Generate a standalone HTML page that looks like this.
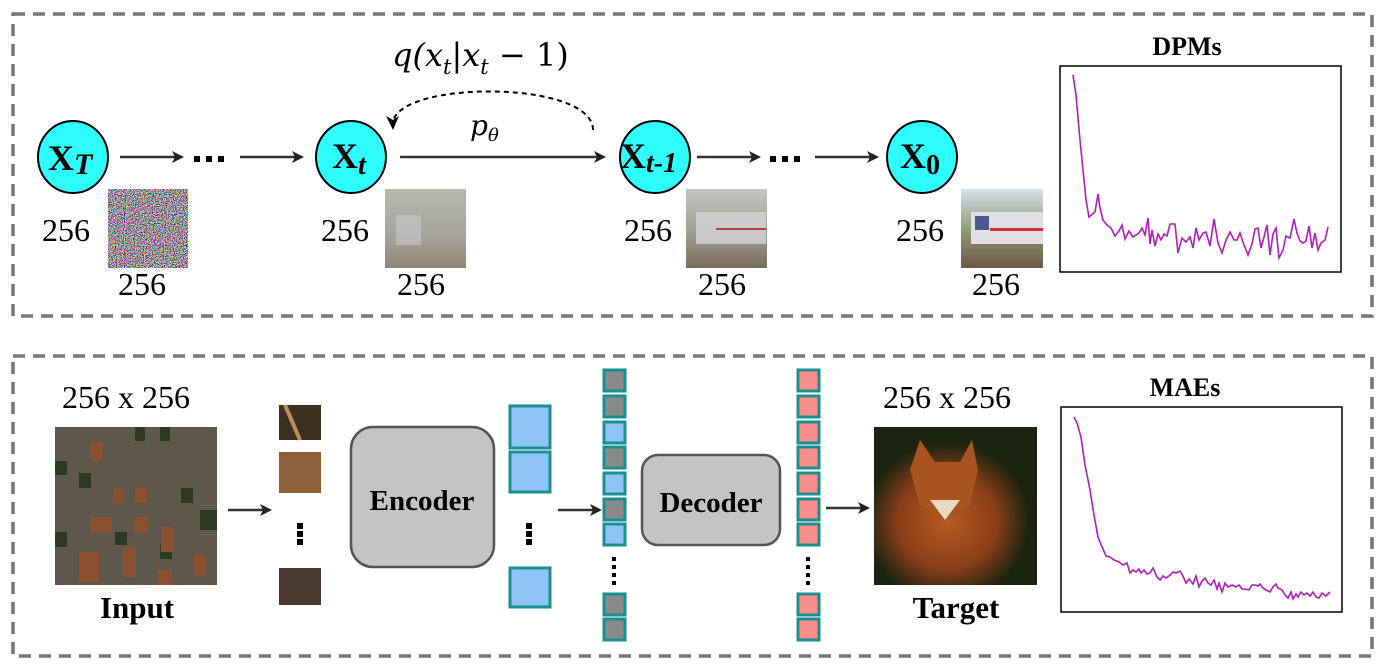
<!DOCTYPE html>
<html><head><meta charset="utf-8"><style>
html,body{margin:0;padding:0;background:#fff;}
svg{display:block;}
.n{font-family:"Liberation Serif",serif;font-size:32px;fill:#000;}
.b{font-family:"Liberation Serif",serif;font-weight:bold;fill:#000;}
</style></head><body>
<svg width="1390" height="672" viewBox="0 0 1390 672" xmlns="http://www.w3.org/2000/svg">
<defs>
<marker id="ah2" markerWidth="12" markerHeight="12" refX="6" refY="6" orient="auto" markerUnits="userSpaceOnUse">
<path d="M0,0 L12,6 L0,12 L3,6 Z" fill="#222"/></marker>
<filter id="noise" x="0" y="0" width="100%" height="100%">
<feTurbulence type="fractalNoise" baseFrequency="0.9" numOctaves="2" seed="3"/>
<feColorMatrix type="matrix" values="3 0 0 0 -1.1  0 3 0 0 -1.15  0 0 3 0 -1.1  0 0 0 0 1"/>
</filter>
<linearGradient id="g1" x1="0" y1="0" x2="0" y2="1"><stop offset="0" stop-color="#b8b8b2"/><stop offset="0.6" stop-color="#a6a49a"/><stop offset="1" stop-color="#8e8676"/></linearGradient>
<linearGradient id="g2" x1="0" y1="0" x2="0" y2="1"><stop offset="0" stop-color="#c4c6c4"/><stop offset="0.6" stop-color="#9a9a8c"/><stop offset="1" stop-color="#7a6c5c"/></linearGradient>
<linearGradient id="g3" x1="0" y1="0" x2="0" y2="1"><stop offset="0" stop-color="#d8e0ea"/><stop offset="0.55" stop-color="#8c9670"/><stop offset="1" stop-color="#6c5848"/></linearGradient>
<radialGradient id="fox" cx="0.45" cy="0.6" r="0.5"><stop offset="0" stop-color="#b85a22"/><stop offset="0.6" stop-color="#8a3e18"/><stop offset="1" stop-color="#1c2410"/></radialGradient>
</defs>

<rect x="13" y="14" width="1359" height="302" fill="none" stroke="#777" stroke-width="3.5" stroke-dasharray="12,8"/>
<rect x="13" y="356" width="1359" height="300" fill="none" stroke="#777" stroke-width="3.5" stroke-dasharray="12,8"/>

<g stroke="#000" stroke-width="2" fill="#2efcfd">
<ellipse cx="73" cy="157" rx="35" ry="36"/><ellipse cx="351" cy="157" rx="35" ry="36"/><ellipse cx="655" cy="157" rx="35" ry="36"/><ellipse cx="922" cy="157" rx="35" ry="36"/>
</g>
<g class="b" font-size="36">
<text x="48" y="170">X<tspan font-style="italic" font-size="30" dy="4">T</tspan></text>
<text x="332" y="168">X<tspan font-style="italic" font-size="28" dy="6">t</tspan></text>
<text x="620" y="168">X<tspan font-style="italic" font-size="28" dy="4">t-1</tspan></text>
<text x="900" y="168">X<tspan font-size="28" dy="6">0</tspan></text>
</g>
<g stroke="#333" stroke-width="2.5" marker-end="url(#ah2)">
<line x1="120" y1="157" x2="178" y2="157"/><line x1="240" y1="157" x2="298" y2="157"/>
<line x1="400" y1="157" x2="600" y2="157"/>
<line x1="697" y1="157" x2="755" y2="157"/><line x1="815" y1="157" x2="873" y2="157"/>
</g>
<g fill="#000"><rect x="194" y="156" width="6" height="6"/><rect x="206" y="156" width="6" height="6"/><rect x="218" y="156" width="6" height="6"/>
<rect x="770" y="156" width="6" height="6"/><rect x="782" y="156" width="6" height="6"/><rect x="794" y="156" width="6" height="6"/></g>
<path d="M593,130 C593,80 400,80 393,122" fill="none" stroke="#000" stroke-width="2" stroke-dasharray="5,4"/>
<path d="M386,116 L393,130 L399,116 L393,120 Z" fill="#000"/>
<text x="392" y="66" font-family="'DejaVu Serif','Liberation Serif',serif" font-size="32" font-style="italic">q(x<tspan font-size="21" dy="8">t</tspan><tspan dy="-8" font-style="normal">|</tspan>x<tspan font-size="21" dy="8">t</tspan><tspan dy="-8" font-style="normal"> − 1)</tspan></text>
<text x="470" y="135" font-family="'DejaVu Serif','Liberation Serif',serif" font-size="28" font-style="italic">p<tspan font-size="18" dy="6">θ</tspan></text>

<rect x="108" y="189" width="80" height="79" fill="#777" filter="url(#noise)"/>
<rect x="385" y="189" width="81" height="79" fill="url(#g1)"/>
<rect x="396" y="215" width="25" height="30" fill="#c8c8cc" opacity="0.6"/>
<rect x="686" y="189" width="81" height="79" fill="url(#g2)"/>
<rect x="696" y="212" width="70" height="32" fill="#d4d4d8" opacity="0.8"/><rect x="716" y="228" width="50" height="2" fill="#c04040"/>
<rect x="961" y="189" width="82" height="79" fill="url(#g3)"/>
<rect x="971" y="212" width="72" height="32" fill="#e0e0e4"/><rect x="975" y="216" width="14" height="14" fill="#4a5a8c"/><rect x="990" y="228" width="53" height="3" fill="#d03030"/>
<g class="n">
<text x="42" y="241">256</text><text x="118" y="295">256</text>
<text x="321" y="241">256</text><text x="397" y="295">256</text>
<text x="624" y="241">256</text><text x="698" y="295">256</text>
<text x="896" y="241">256</text><text x="972" y="295">256</text>
</g>

<text x="1187" y="55" class="b" font-size="26" text-anchor="middle">DPMs</text>
<rect x="1060" y="66" width="281" height="206" fill="#fff" stroke="#000" stroke-width="1.5"/>
<polyline fill="none" stroke="#b01cc0" stroke-width="1.6" points="1073,75 1076,95 1080,140 1083,170 1086,200 1089,217 1095,212 1098,194 1100,208 1103,220 1107,225 1111,228 1115,236 1119,231 1122,225 1125,239 1129,231 1133,237 1136,235 1139,233 1142,228 1145,235 1148,218 1150,244 1152,230 1155,246 1158,234 1161,240 1164,234 1167,236 1170,224 1175,224 1178,253 1182,238 1186,242 1190,237 1193,248 1196,228 1199,240 1203,233 1206,232 1210,246 1214,219 1218,243 1222,253 1226,240 1230,232 1234,240 1237,240 1240,233 1244,245 1248,255 1252,244 1255,229 1258,228 1261,248 1264,237 1267,225 1270,255 1273,234 1276,228 1279,258 1283,250 1286,236 1290,238 1294,219 1297,233 1300,241 1303,243 1306,241 1309,226 1312,248 1315,233 1318,250 1321,243 1325,240 1328,227"/>

<g class="n"><text x="62" y="408">256 x 256</text><text x="883" y="408">256 x 256</text></g>
<rect x="55" y="427" width="162" height="158" fill="#5e574b"/>
<g fill="#2c3a22"><rect x="135" y="427" width="10" height="14"/><rect x="160" y="427" width="10" height="14"/><rect x="55" y="461" width="12" height="14"/><rect x="79" y="473" width="12" height="15"/><rect x="181" y="488" width="12" height="15"/><rect x="55" y="532" width="12" height="15"/><rect x="115" y="532" width="12" height="13"/><rect x="200" y="510" width="17" height="20"/><rect x="160" y="545" width="12" height="14"/></g>
<g fill="#8a5030"><rect x="91" y="442" width="12" height="19"/><rect x="113" y="488" width="11" height="15"/><rect x="135" y="488" width="12" height="15"/><rect x="91" y="517" width="21" height="15"/><rect x="134" y="517" width="14" height="15"/><rect x="123" y="547" width="13" height="30"/><rect x="161" y="527" width="12" height="25"/><rect x="194" y="555" width="12" height="20"/><rect x="79" y="552" width="20" height="30"/><rect x="158" y="570" width="14" height="15"/></g>
<text x="137" y="618" class="b" font-size="31" text-anchor="middle">Input</text>
<line x1="228" y1="510" x2="266" y2="510" stroke="#333" stroke-width="2.5" marker-end="url(#ah2)"/>
<rect x="279" y="405" width="42" height="35" fill="#3c3020"/><path d="M285,405 L300,440" stroke="#b8905a" stroke-width="4"/>
<rect x="279" y="452" width="42" height="41" fill="#8c6038"/>
<rect x="279" y="568" width="42" height="37" fill="#4a3a30"/>
<g fill="#000"><rect x="297" y="523" width="6" height="6"/><rect x="297" y="531" width="6" height="6"/><rect x="297" y="539" width="6" height="6"/>
<rect x="526" y="523" width="6" height="6"/><rect x="526" y="531" width="6" height="6"/><rect x="526" y="539" width="6" height="6"/></g>
<rect x="351" y="427" width="143" height="140" rx="22" fill="#c4c4c4" stroke="#555" stroke-width="2.5"/>
<text x="422" y="510" class="b" font-size="29" text-anchor="middle">Encoder</text>
<g fill="#90c4f8" stroke="#1a8f8f" stroke-width="3">
<rect x="510" y="406" width="40" height="42"/><rect x="510" y="452" width="40" height="40"/><rect x="510" y="568" width="40" height="39"/></g>
<line x1="558" y1="510" x2="596" y2="510" stroke="#333" stroke-width="2.5" marker-end="url(#ah2)"/>
<g stroke="#1a8f8f" stroke-width="3">
<rect x="604" y="370" width="21" height="21" fill="#8a8a8a"/><rect x="604" y="396" width="21" height="21" fill="#8a8a8a"/>
<rect x="604" y="422" width="21" height="21" fill="#90c4f8"/><rect x="604" y="447" width="21" height="21" fill="#8a8a8a"/>
<rect x="604" y="473" width="21" height="21" fill="#90c4f8"/><rect x="604" y="499" width="21" height="21" fill="#8a8a8a"/>
<rect x="604" y="524" width="21" height="21" fill="#90c4f8"/>
<rect x="604" y="594" width="21" height="21" fill="#8a8a8a"/><rect x="604" y="619" width="21" height="21" fill="#8a8a8a"/>
</g>
<g stroke="#1a8f8f" stroke-width="3" fill="#fa8e8a">
<rect x="798" y="370" width="21" height="21"/><rect x="798" y="396" width="21" height="21"/><rect x="798" y="422" width="21" height="21"/><rect x="798" y="447" width="21" height="21"/><rect x="798" y="473" width="21" height="21"/><rect x="798" y="499" width="21" height="21"/><rect x="798" y="524" width="21" height="21"/><rect x="798" y="594" width="21" height="21"/><rect x="798" y="619" width="21" height="21"/>
</g>
<g fill="#000"><rect x="612" y="557" width="4" height="4"/><rect x="612" y="565" width="4" height="4"/><rect x="612" y="573" width="4" height="4"/><rect x="612" y="581" width="4" height="4"/>
<rect x="806" y="557" width="4" height="4"/><rect x="806" y="565" width="4" height="4"/><rect x="806" y="573" width="4" height="4"/><rect x="806" y="581" width="4" height="4"/></g>
<rect x="642" y="455" width="138" height="90" rx="16" fill="#c4c4c4" stroke="#555" stroke-width="2.5"/>
<text x="711" y="512" class="b" font-size="29" text-anchor="middle">Decoder</text>
<line x1="826" y1="508" x2="864" y2="508" stroke="#333" stroke-width="2.5" marker-end="url(#ah2)"/>
<rect x="874" y="427" width="163" height="158" fill="url(#fox)"/>
<path d="M910,470 L920,440 L935,462 L960,462 L972,440 L978,470 L970,505 L945,520 L920,505 Z" fill="#a85420"/>
<path d="M930,500 L945,520 L960,500 Z" fill="#e8d8c0"/>
<text x="956" y="618" class="b" font-size="31" text-anchor="middle">Target</text>

<text x="1185" y="396" class="b" font-size="26" text-anchor="middle">MAEs</text>
<rect x="1061" y="407" width="281" height="205" fill="#fff" stroke="#000" stroke-width="1.5"/>
<polyline fill="none" stroke="#b01cc0" stroke-width="1.6" points="1074,417 1077,423 1081,437 1085,465 1090,490 1094,515 1098,537 1102,547 1106,556 1110,557 1114,560 1119,562 1123,565 1127,563 1130,573 1133,570 1136,572 1139,569 1141,573 1144,570 1147,574 1150,573 1153,568 1157,577 1160,580 1163,576 1166,578 1169,576 1173,572 1176,573 1180,571 1183,576 1186,583 1189,579 1193,584 1196,576 1199,587 1202,581 1205,578 1208,583 1211,585 1214,580 1217,589 1219,583 1222,592 1225,583 1228,587 1232,585 1236,587 1239,585 1242,589 1245,589 1249,590 1252,585 1255,585 1258,586 1260,584 1263,588 1266,590 1270,592 1273,587 1276,584 1278,588 1282,590 1285,595 1288,598 1291,592 1293,599 1296,594 1298,597 1301,592 1304,595 1307,593 1310,596 1313,592 1316,597 1319,598 1322,593 1326,596 1330,592"/>
</svg>
</body></html>
